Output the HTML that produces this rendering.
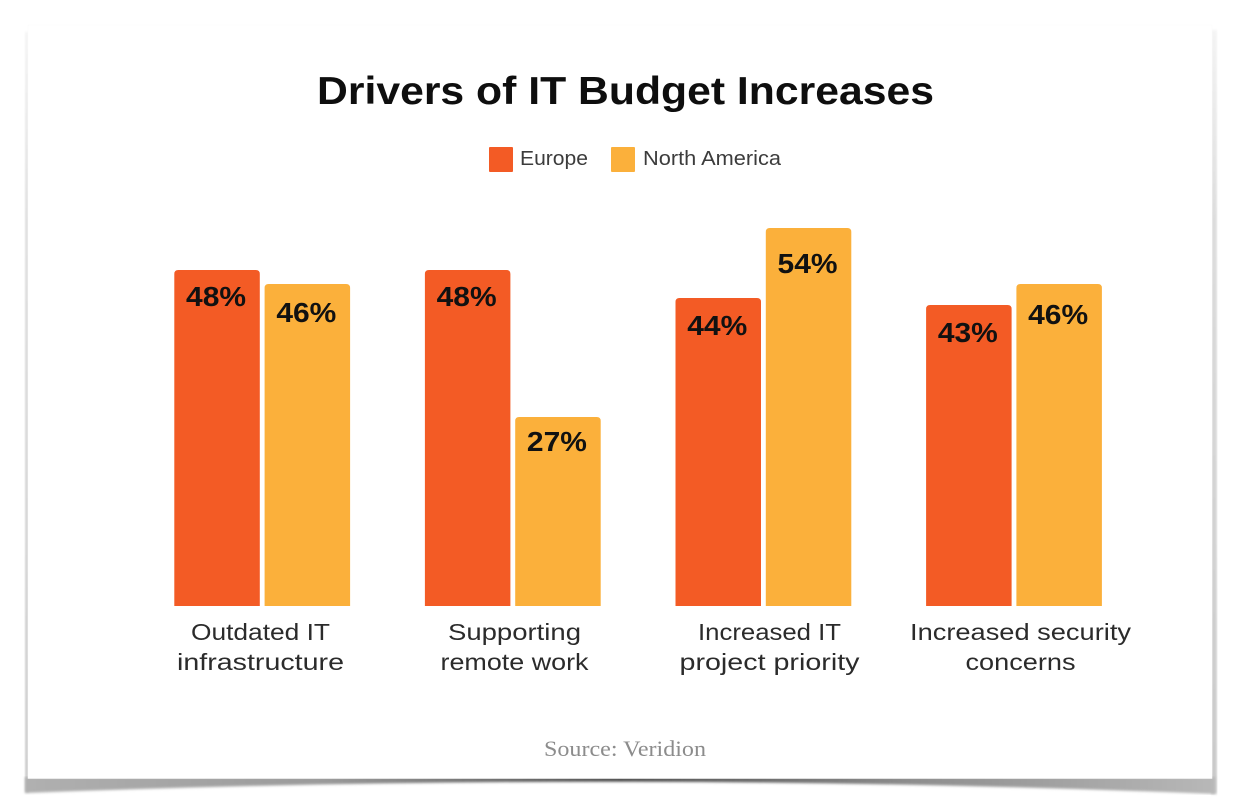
<!DOCTYPE html>
<html lang="en">
<head>
<meta charset="utf-8">
<title>Drivers of IT Budget Increases</title>
<style>
html,body{margin:0;padding:0;background:#fff;}
svg{display:block;}
</style>
</head>
<body>
<svg id="chart" xmlns="http://www.w3.org/2000/svg" width="1240" height="806" viewBox="0 0 1240 806">
  <defs>
    <linearGradient id="bottomShade" x1="0" x2="1" y1="0" y2="0">
      <stop offset="0" stop-color="#b0b0b0"/>
      <stop offset="0.25" stop-color="#9a9a9a"/>
      <stop offset="0.5" stop-color="#4c4c4c"/>
      <stop offset="0.75" stop-color="#8e8e8e"/>
      <stop offset="1" stop-color="#b8b8b8"/>
    </linearGradient>
    <linearGradient id="sideShade" x1="0" x2="0" y1="0" y2="1">
      <stop offset="0" stop-color="#f4f4f4"/>
      <stop offset="0.25" stop-color="#dcdcdc"/>
      <stop offset="1" stop-color="#c8c8c8"/>
    </linearGradient>
    <filter id="soft" x="-5%" y="-5%" width="110%" height="110%"><feGaussianBlur stdDeviation="1.2"/></filter>
  </defs>
  <rect width="1240" height="806" fill="#ffffff"/>
  <g>
    <rect x="25" y="32" width="4" height="760" fill="url(#sideShade)" filter="url(#soft)"/>
    <rect x="1211" y="30" width="6" height="764" fill="url(#sideShade)" filter="url(#soft)"/>
    <path d="M25 777 L1215 777 L1215 794 Q 620 770 25 793 Z" fill="url(#bottomShade)" filter="url(#soft)"/>
  </g>
  <rect x="28" y="25" width="1184" height="753.5" fill="#ffffff" stroke="#fafafa" stroke-width="0.5"/>
  <text x="317" y="104" textLength="617" lengthAdjust="spacingAndGlyphs" font-family="'Liberation Sans',sans-serif" font-weight="700" font-size="39" fill="#0e0e0e">Drivers of IT Budget Increases</text>

  <g>
    <g>
      <rect x="489" y="147" width="24" height="25" rx="1" fill="#f35b25"/>
      <text x="520" y="165" textLength="68" lengthAdjust="spacingAndGlyphs" font-family="'Liberation Sans',sans-serif" font-size="20" fill="#3c3c3c">Europe</text>
    </g>
    <g>
      <rect x="611" y="147" width="24" height="25" rx="1" fill="#fbb03b"/>
      <text x="643" y="165" textLength="138" lengthAdjust="spacingAndGlyphs" font-family="'Liberation Sans',sans-serif" font-size="20" fill="#3c3c3c">North America</text>
    </g>
  </g>

  <g id="bars"></g>
  <g id="labels"></g>
  <g id="cats"></g>

  <text x="544" y="756" textLength="162" lengthAdjust="spacingAndGlyphs" font-family="'Liberation Serif',serif" font-size="22" fill="#8c8c8c">Source: Veridion</text>
</svg>
<script>
const categories = [
  ["Outdated IT", "infrastructure"],
  ["Supporting", "remote work"],
  ["Increased IT", "project priority"],
  ["Increased security", "concerns"]
];
const europe = [48, 48, 44, 43];
const northAmerica = [46, 27, 54, 46];

const NS = "http://www.w3.org/2000/svg";
const BASE_Y = 606, PX_PER_PCT = 7;
const FIRST_X = 174.3, GROUP_STEP = 250.6, BAR_W = 85.5, SECOND_OFF = 90.3;
const CAT_CX = [260.5, 514.5, 769.5, 1020.5];
const CAT_LINE_W = [[139, 167], [133, 148], [143, 180], [221, 110]];
const LABEL_DROP = [[26, 28], [26, 24], [27, 35], [27, 30]];

function yScale(v) { return BASE_Y - v * PX_PER_PCT; }
function xScale(groupIndex, seriesIndex) {
  return FIRST_X + groupIndex * GROUP_STEP + seriesIndex * SECOND_OFF;
}
function barPath(x, y, w, h, r) {
  return "M" + x + " " + (y + h) + "V" + (y + r) + "Q" + x + " " + y + " " + (x + r) + " " + y +
    "H" + (x + w - r) + "Q" + (x + w) + " " + y + " " + (x + w) + " " + (y + r) + "V" + (y + h) + "Z";
}
const barsG = document.getElementById("bars");
const labelsG = document.getElementById("labels");
const catsG = document.getElementById("cats");
const seriesList = [
  { key: "europe", values: europe, color: "#f35b25" },
  { key: "north-america", values: northAmerica, color: "#fbb03b" }
];
seriesList.forEach(function (s, si) {
  s.values.forEach(function (v, i) {
    const x = xScale(i, si), y = yScale(v);
    const bar = document.createElementNS(NS, "path");
    bar.setAttribute("d", barPath(x, y, BAR_W, BASE_Y - y, 4));
    bar.setAttribute("fill", s.color);
    
    
    barsG.appendChild(bar);

    const t = document.createElementNS(NS, "text");
    t.setAttribute("x", x + BAR_W / 2 - 1);
    t.setAttribute("y", y + LABEL_DROP[i][si] + 10);
    t.setAttribute("text-anchor", "middle");
    t.setAttribute("font-family", "'Liberation Sans',sans-serif");
    t.setAttribute("font-weight", "700");
    t.setAttribute("font-size", "28");
    t.setAttribute("textLength", "60");
    t.setAttribute("lengthAdjust", "spacingAndGlyphs");
    t.setAttribute("fill", "#111111");
    
    
    t.textContent = v + "%";
    labelsG.appendChild(t);
  });
});
categories.forEach(function (lines, i) {
  lines.forEach(function (line, li) {
    const t = document.createElementNS(NS, "text");
    t.setAttribute("x", CAT_CX[i]);
    t.setAttribute("y", 640 + li * 30);
    t.setAttribute("text-anchor", "middle");
    t.setAttribute("font-family", "'Liberation Sans',sans-serif");
    t.setAttribute("font-size", "23");
    t.setAttribute("textLength", CAT_LINE_W[i][li]);
    t.setAttribute("lengthAdjust", "spacingAndGlyphs");
    t.setAttribute("fill", "#2b2b2b");
    
    
    t.textContent = line;
    catsG.appendChild(t);
  });
});
</script>
</body>
</html>
